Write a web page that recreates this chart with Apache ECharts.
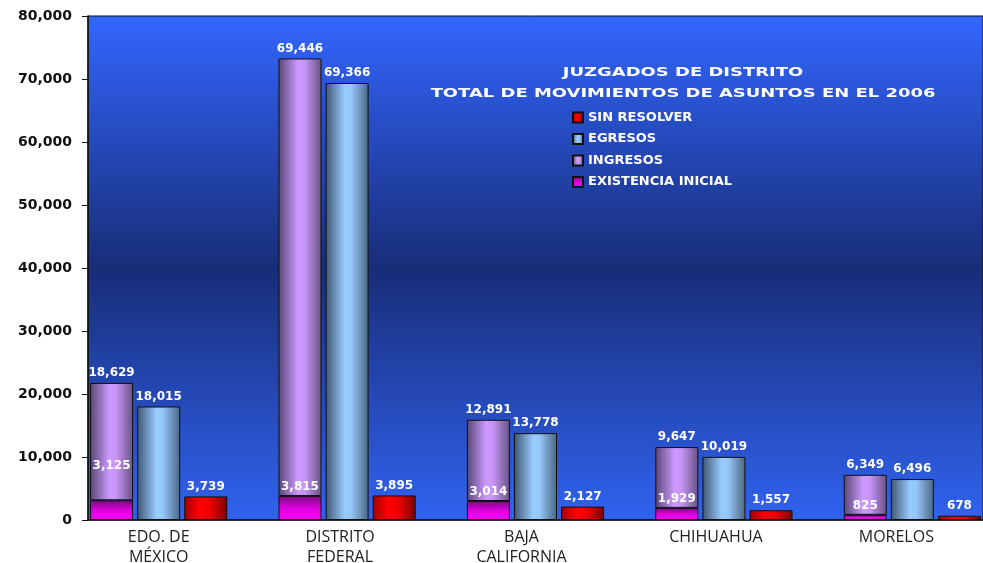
<!DOCTYPE html>
<html>
<head>
<meta charset="utf-8">
<script src="https://cdn.jsdelivr.net/npm/echarts@6/dist/echarts.min.js"></script>
<style>
  html, body { margin: 0; padding: 0; background: #fff; }
  #chart { width: 983px; height: 563px; }
</style>
</head>
<body>
<div id="chart"></div>
<script>
// datos por entidad
const estados = ['EDO. DE\nMÉXICO', 'DISTRITO\nFEDERAL', 'BAJA\nCALIFORNIA', 'CHIHUAHUA', 'MORELOS']
const existenciaInicial = [3125, 3815, 3014, 1929, 825]
const ingresos = [18629, 69446, 12891, 9647, 6349]
const egresos = [18015, 69366, 13778, 10019, 6496]
const sinResolver = [3739, 3895, 2127, 1557, 678]
const yTicks = [0, 10000, 20000, 30000, 40000, 50000, 60000, 70000, 80000]

// corrimiento horizontal de cada etiqueta de entidad (como en el original)
const labelShift = ['s0', 's7', 's14', 's8', 's16']

const fmt = v => Number(v).toLocaleString('en-US')

// 3 barras por entidad + 1 hueco entre grupos
const slots = []
const sExist = []
const sIngr = []
const sEgr = []
const sSin = []
estados.forEach((e, i) => {
  slots.push('', e, '')
  sExist.push(i === 0
    ? { value: existenciaInicial[i], label: { offset: [0, -25] } }
    : existenciaInicial[i], '-', '-')
  sIngr.push(ingresos[i], '-', '-')
  sEgr.push('-', egresos[i], '-')
  sSin.push('-', '-', sinResolver[i])
  if (i < estados.length - 1) {
    slots.push('')
    sExist.push('-'); sIngr.push('-'); sEgr.push('-'); sSin.push('-')
  }
})

const hGrad = (stops) => ({
  type: 'linear', x: 0, y: 0, x2: 1, y2: 0,
  colorStops: stops.map(s => ({ offset: s[0], color: s[1] }))
})

const valueLabel = {
  show: true,
  position: 'top',
  distance: 4,
  color: '#fff',
  fontFamily: 'DejaVu Sans',
  fontWeight: 'bold',
  fontSize: 12,
  formatter: p => fmt(p.value)
}

const chart = echarts.init(document.getElementById('chart'))

const option = {
  animation: false,
  grid: {
    left: 88, right: 0, top: 16, bottom: 43,
    containLabel: false,
    outerBoundsMode: 'none',
    show: true,
    borderColor: '#111',
    borderWidth: 1,
    backgroundColor: {
      type: 'linear', x: 0, y: 0, x2: 0, y2: 1,
      colorStops: [
        { offset: 0, color: '#3366ff' },
        { offset: 0.5, color: '#182d78' },
        { offset: 1, color: '#3163f0' }
      ]
    }
  },
  graphic: [
    {
      type: 'text', x: 683, y: 72.5, scaleX: 1.38,
      style: {
        text: 'JUZGADOS DE DISTRITO', x: 0, y: 0,
        textAlign: 'center', textVerticalAlign: 'middle',
        fill: '#fff', font: 'bold 13px "DejaVu Sans"'
      }
    },
    {
      type: 'text', x: 683, y: 94, scaleX: 1.38,
      style: {
        text: 'TOTAL DE MOVIMIENTOS DE ASUNTOS EN EL 2006', x: 0, y: 0,
        textAlign: 'center', textVerticalAlign: 'middle',
        fill: '#fff', font: 'bold 13px "DejaVu Sans"'
      }
    }
  ],
  legend: {
    orient: 'vertical',
    left: 567,
    top: 106,
    itemWidth: 10,
    itemHeight: 10,
    itemGap: 8.5,
    icon: 'rect',
    data: ['SIN RESOLVER', 'EGRESOS', 'INGRESOS', 'EXISTENCIA INICIAL'],
    textStyle: {
      color: '#fff',
      fontFamily: 'DejaVu Sans',
      fontWeight: 'bold',
      fontSize: 13
    }
  },
  xAxis: {
    type: 'category',
    data: slots,
    axisLine: { lineStyle: { color: '#111', width: 1.5 } },
    axisTick: { interval: 0, length: 5, lineStyle: { color: '#555' } },
    axisLabel: {
      interval: 0,
      margin: 7,
      color: '#222',
      fontFamily: 'Open Sans',
      fontSize: 16,
      lineHeight: 20,
      formatter: (v) => {
        const i = estados.indexOf(v)
        if (i < 0) return ''
        return v.split('\n').map(l => '{' + labelShift[i] + '|' + l + '}').join('\n')
      },
      rich: {
        s0: { padding: [0, 0, 0, 0] },
        s7: { padding: [0, 14, 0, 0] },
        s8: { padding: [0, 16, 0, 0] },
        s14: { padding: [0, 28, 0, 0] },
        s16: { padding: [0, 32, 0, 0] }
      }
    }
  },
  yAxis: {
    type: 'value',
    min: yTicks[0],
    max: yTicks[yTicks.length - 1],
    interval: yTicks[1] - yTicks[0],
    splitLine: { show: false },
    axisLine: { show: true, lineStyle: { color: '#111', width: 1.5 } },
    axisTick: { show: true, length: 6, lineStyle: { color: '#111' } },
    axisLabel: {
      margin: 16,
      color: '#111',
      fontFamily: 'DejaVu Sans',
      fontWeight: 'bold',
      fontSize: 14,
      formatter: v => fmt(v)
    }
  },
  series: [
    {
      name: 'EXISTENCIA INICIAL',
      type: 'bar',
      stack: 'all',
      barWidth: 43,
      data: sExist,
      itemStyle: {
        borderColor: '#111',
        borderWidth: 1,
        color: {
          type: 'linear', x: 0, y: 0, x2: 0, y2: 1,
          colorStops: [
            { offset: 0, color: '#7a0a80' },
            { offset: 0.5, color: '#dd00dd' },
            { offset: 1, color: '#ff00ff' }
          ]
        }
      },
      label: Object.assign({}, valueLabel, { distance: 3 })
    },
    {
      name: 'INGRESOS',
      type: 'bar',
      stack: 'all',
      barWidth: 43,
      data: sIngr,
      itemStyle: {
        borderColor: '#111',
        borderWidth: 1,
        color: hGrad([[0, '#584674'], [0.45, '#cc99ff'], [0.6, '#c895f8'], [1, '#665383']])
      },
      label: valueLabel
    },
    {
      name: 'EGRESOS',
      type: 'bar',
      stack: 'all',
      barWidth: 43,
      data: sEgr,
      itemStyle: {
        borderColor: '#111',
        borderWidth: 1,
        color: hGrad([[0, '#3e5670'], [0.45, '#99ccff'], [0.6, '#94c6f6'], [1, '#4a6682']])
      },
      label: valueLabel
    },
    {
      name: 'SIN RESOLVER',
      type: 'bar',
      stack: 'all',
      barWidth: 43,
      data: sSin,
      itemStyle: {
        borderColor: '#111',
        borderWidth: 1,
        color: hGrad([[0, '#a00000'], [0.35, '#ff0000'], [0.6, '#ee0000'], [1, '#7a0000']])
      },
      label: valueLabel
    }
  ]
}

chart.setOption(option)
</script>
</body>
</html>
